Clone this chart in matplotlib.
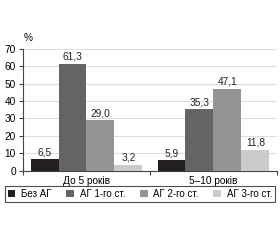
import matplotlib
matplotlib.use("Agg")
import matplotlib.pyplot as plt
import numpy as np

plt.rcParams['font.family'] = ['Liberation Sans', 'DejaVu Sans']

groups = ["До 5 років", "5–10 років"]
series = ["Без АГ", "АГ 1-го ст.", "АГ 2-го ст.", "АГ 3-го ст."]
values = [
    [6.5, 5.9],
    [61.3, 35.3],
    [29.0, 47.1],
    [3.2, 11.8],
]
colors = ["#231f20", "#646464", "#949494", "#cbcbcb"]
labels = [["6,5", "5,9"], ["61,3", "35,3"], ["29,0", "47,1"], ["3,2", "11,8"]]

fig = plt.figure(figsize=(2.8, 2.4), dpi=100)
ax = fig.add_axes([0.082, 0.289, 0.907, 0.508])

x = np.arange(len(groups))
w = 0.22
for i, (name, vals) in enumerate(zip(series, values)):
    pos = x + (i - 1.5) * w
    ax.bar(pos, vals, width=w, color=colors[i], label=name, zorder=3)
    for p, v, t in zip(pos, vals, labels[i]):
        ax.text(p, v + 1.2, t, ha="center", va="bottom", fontsize=7.3, color="#222222")

ax.set_xlim(-0.5, 1.5)
ax.set_ylim(0, 70)
ax.set_yticks(range(0, 71, 10))
ax.yaxis.grid(True, color="#dddddd", linewidth=0.8, zorder=0)
ax.set_axisbelow(True)

ax.set_xticks(x)
ax.set_xticklabels(groups)
ax.set_xticks([-0.5, 0.5, 1.5], minor=True)
ax.tick_params(axis="x", which="major", length=0, labelsize=7.3, pad=4)
ax.tick_params(axis="x", which="minor", length=3, width=0.8, color="#444444")
ax.tick_params(axis="y", length=3, width=0.8, labelsize=7.3, pad=2, color="#444444")

for s in ["top", "right"]:
    ax.spines[s].set_visible(False)
for s in ["left", "bottom"]:
    ax.spines[s].set_color("#444444")
    ax.spines[s].set_linewidth(0.8)

fig.text(0.085, 0.82, "%", fontsize=7.3, ha="left", va="bottom")

leg = fig.legend(loc="center", bbox_to_anchor=(0.5, 0.192), ncol=4, fontsize=7,
                 frameon=True, fancybox=False, handlelength=0.8, handleheight=0.8,
                 handletextpad=0.6, columnspacing=1.5, borderpad=0.3)
leg.get_frame().set_edgecolor("#222222")
leg.get_frame().set_linewidth(0.8)

fig.savefig("out.png", dpi=100)
